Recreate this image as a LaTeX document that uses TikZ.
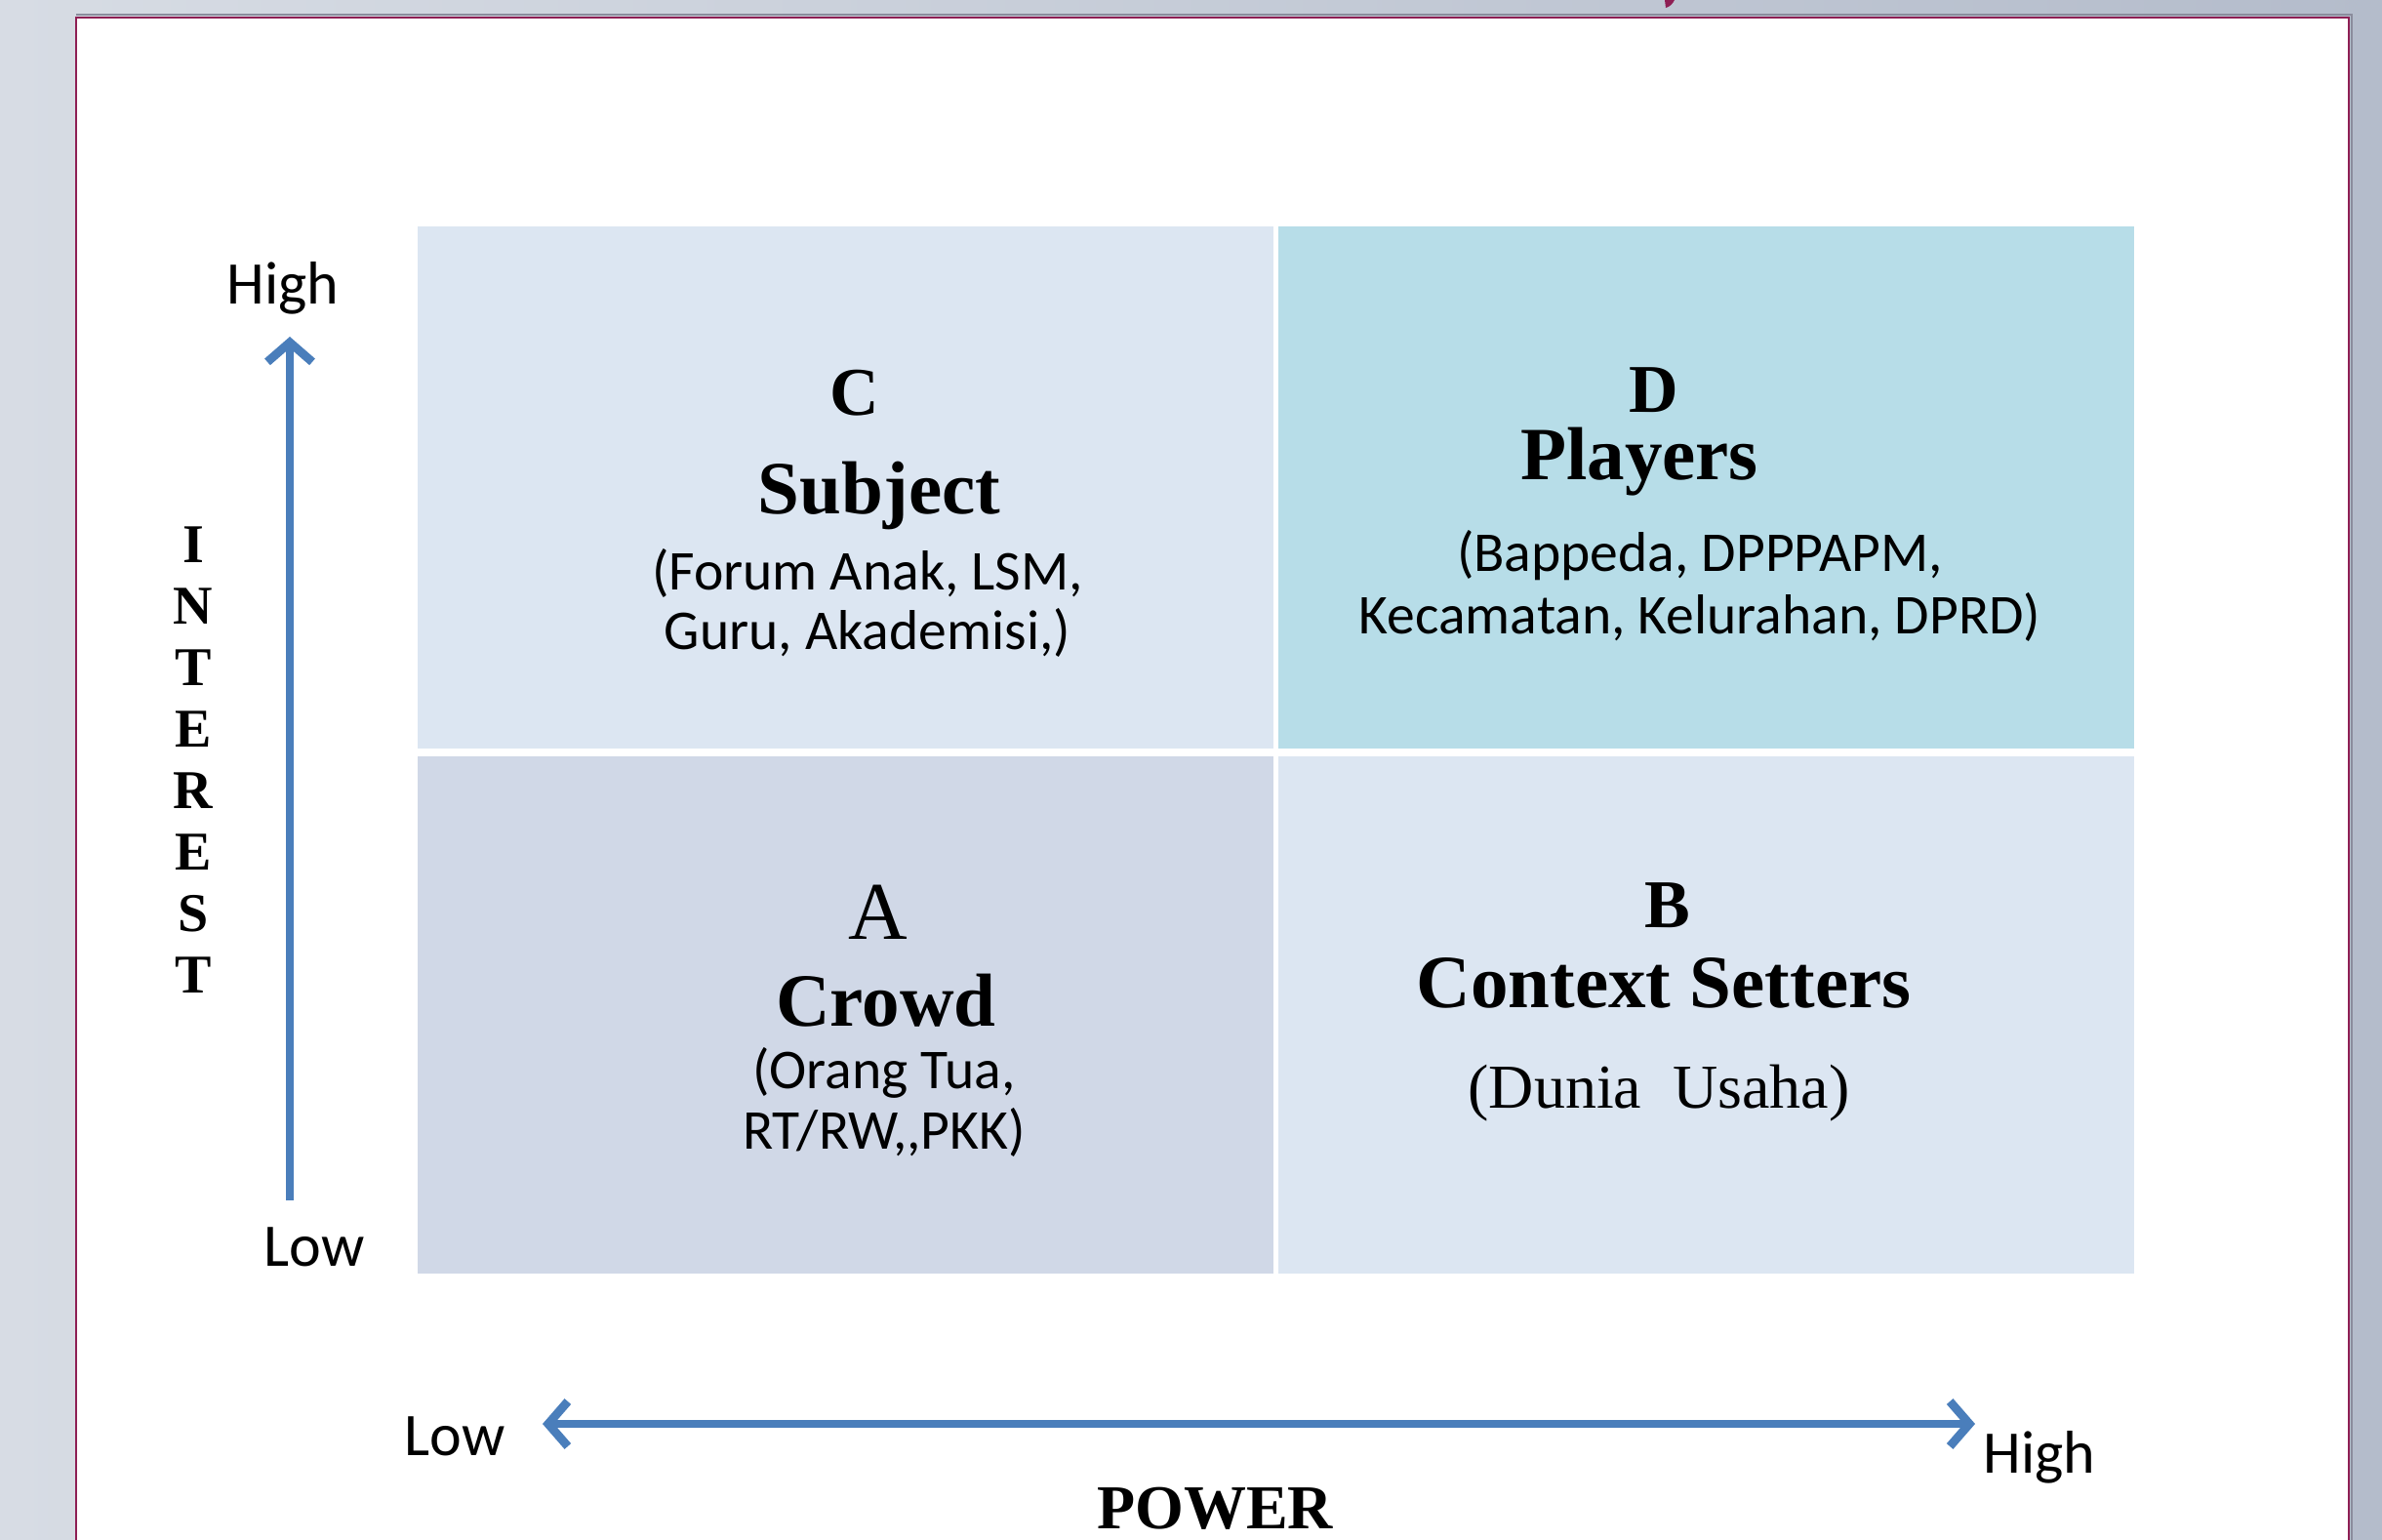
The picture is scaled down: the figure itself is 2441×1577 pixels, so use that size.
\documentclass[tikz,border=0pt]{standalone}
\usepackage{fontspec}
\setmainfont{Liberation Serif}
\newfontfamily\calfont{Carlito}
\usetikzlibrary{arrows.meta}

\definecolor{bgleft}{HTML}{D7DCE4}
\definecolor{bgright}{HTML}{B4BCCB}
\definecolor{rim}{HTML}{8E1F54}
\definecolor{rimshade}{HTML}{8A8C9C}
\definecolor{quadC}{HTML}{DCE6F2}
\definecolor{quadD}{HTML}{B7DDE8}
\definecolor{quadA}{HTML}{D0D8E7}
\definecolor{quadB}{HTML}{DCE6F2}
\definecolor{axisblue}{HTML}{4A7EBB}

\tikzset{
  quad/.style={draw=none, inner sep=0pt, outer sep=0pt, minimum width=219.25pt},
  body/.style={font=\calfont\fontsize{14.4pt}{17pt}\selectfont, anchor=base, inner sep=0pt},
  title/.style={font=\bfseries\fontsize{19.25pt}{23pt}\selectfont, anchor=base, inner sep=0pt},
  letter/.style={font=\bfseries\fontsize{17.5pt}{21pt}\selectfont, anchor=base, inner sep=0pt, text depth=0pt},
  plainletter/.style={font=\fontsize{21pt}{25pt}\selectfont, anchor=base, inner sep=0pt, text depth=0pt},
  plainbody/.style={font=\fontsize{16pt}{19pt}\selectfont, anchor=base, inner sep=0pt},
  axislbl/.style={font=\calfont\fontsize{15.5pt}{18pt}\selectfont, anchor=base, inner sep=0pt},
  axisname/.style={font=\bfseries\fontsize{16pt}{19pt}\selectfont, anchor=base, inner sep=0pt},
  vletter/.style={font=\bfseries\fontsize{14pt}{17pt}\selectfont, anchor=base, inner sep=0pt},
  barb/.tip={Straight Barb[length=5pt, width=11.5pt, line width=2.2pt]},
  axisarrow/.style={draw=axisblue, line width=2pt},
}

\begin{document}
\begin{tikzpicture}[x=0.25pt, y=-0.25pt]
  \useasboundingbox (0,0) rectangle (2441,1577);

  % slide background and white panel
  \shade[left color=bgleft, right color=bgright] (0,0) rectangle (2441,1577);
  \fill[white] (78,18) rectangle (2408,1590);
  \draw[rimshade, line width=0.5pt] (78,15) -- (2410,15) -- (2410,1590);
  \draw[rim, line width=0.7pt] (78,1590) -- (78,18) -- (2407,18) -- (2407,1590);
  % tail of the heading glyph above the panel
  \fill[rim] (1706,0) -- (1716,0) .. controls (1714,4) and (1711,7) .. (1707,8) -- cycle;

  % quadrants
  \node[quad, fill=quadC, minimum height=133.75pt] (qC) at (866.5,499.5) {};
  \node[quad, fill=quadD, minimum height=133.75pt] (qD) at (1748.5,499.5) {};
  \node[quad, fill=quadA, minimum height=132.5pt] (qA) at (866.5,1040) {};
  \node[quad, fill=quadB, minimum height=132.5pt] (qB) at (1748.5,1040) {};

  % C: Subject
  \node[letter] (cC) at (876,425) {C};
  \node[title] (tC) at (901,526) {Subject};
  \node[body] (bC1) at (889,604) {(Forum Anak, LSM,};
  \node[body] (bC2) at (889,665) {Guru, Akademisi,)};

  % D: Players
  \node[letter] (cD) at (1695,422) {D};
  \node[title] (tD) at (1680,491) {Players};
  \node[body] (bD1) at (1742,585) {(Bappeda, DPPPAPM,};
  \node[body] (bD2) at (1742,649) {Kecamatan, Kelurahan, DPRD)};

  % A: Crowd
  \node[plainletter] (cA) at (900,962) {A};
  \node[title] (tA) at (908,1051) {Crowd};
  \node[body] (bA1) at (906,1115) {(Orang Tua,};
  \node[body] (bA2) at (906,1177) {RT/RW,,PKK)};

  % B: Context Setters
  \node[letter] (cB) at (1709,950) {B};
  \node[title] (tB) at (1705,1032) {Context Setters};
  \node[plainbody] (bB) at (1700,1135) {(Dunia\ \ Usaha)};

  % interest axis
  \node[axislbl] (ihighlbl) at (290,311) {High};
  \node[axislbl] (ilowlbl) at (322,1297) {Low};
  \coordinate (ilow) at (297,1230);
  \coordinate (ihigh) at (297,345);
  \draw[axisarrow, -barb] (ilow) -- (ihigh);
  \foreach \ch [count=\i] in {I,N,T,E,R,E,S,T}
    \node[vletter] (int\i) at (198,{576+63*(\i-1)}) {\ch};

  % power axis
  \node[axislbl] (plowlbl) at (466,1491) {Low};
  \node[axislbl] (phighlbl) at (2090,1509) {High};
  \coordinate (plow) at (556,1459);
  \coordinate (phigh) at (2024,1459);
  \draw[axisarrow, barb-barb] (plow) -- (phigh);
  \node[axisname] (power) at (1245,1566) {POWER};
\end{tikzpicture}
\end{document}
